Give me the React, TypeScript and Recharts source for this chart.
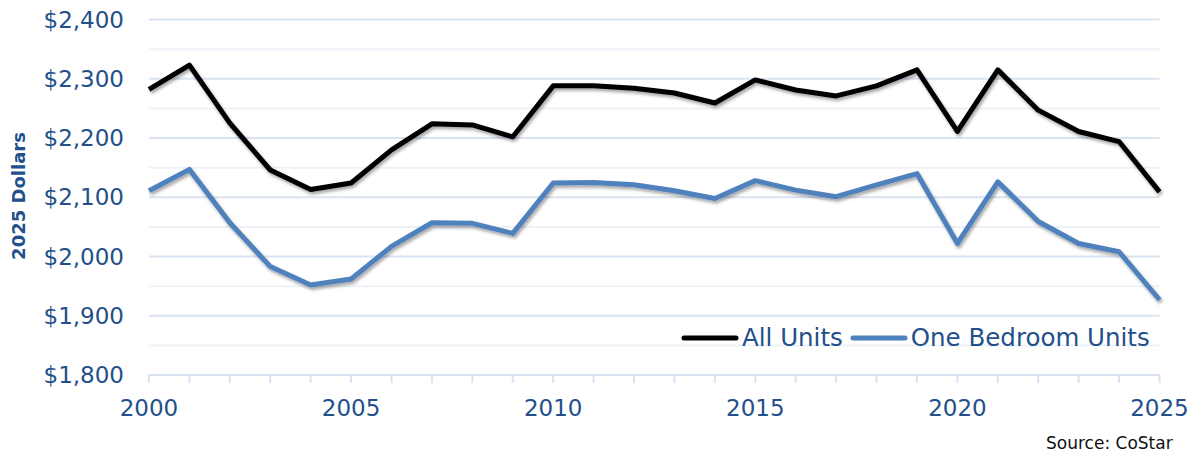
import React from 'react';
import { LineChart, Line, XAxis, YAxis, ReferenceLine, Legend } from 'recharts';

const years = [2000, 2001, 2002, 2003, 2004, 2005, 2006, 2007, 2008, 2009, 2010, 2011, 2012,
  2013, 2014, 2015, 2016, 2017, 2018, 2019, 2020, 2021, 2022, 2023, 2024, 2025];
const allUnits = [2282, 2323, 2225, 2146, 2113, 2124, 2180, 2224, 2222, 2202, 2288, 2288, 2284,
  2276, 2259, 2298, 2281, 2271, 2288, 2315, 2211, 2315, 2247, 2211, 2194, 2109];
const oneBedroom = [2111, 2147, 2057, 1983, 1952, 1962, 2017, 2057, 2056, 2039, 2124, 2125, 2121,
  2111, 2098, 2128, 2112, 2101, 2121, 2140, 2022, 2126, 2059, 2022, 2008, 1927];
const yTicks = [1800, 1900, 2000, 2100, 2200, 2300, 2400];
const minorGrid = [1850, 1950, 2050, 2150, 2250, 2350];
const labelYears = [2000, 2005, 2010, 2015, 2020, 2025];

const data = years.map((year, i) => ({ year, all: allUnits[i], one: oneBedroom[i] }));

const TEXT = '#23508a';
const FONT = '"DejaVu Sans", sans-serif';

const XTick = (props: any) => {
  const { x, y, payload } = props;
  if (!labelYears.includes(payload.value)) return <g />;
  return (
    <text x={x} y={y} dy="0.71em" textAnchor="middle" fill={TEXT} fontSize={23} fontFamily={FONT}>
      {payload.value}
    </text>
  );
};

const YLabel = () => (
  <text x={19} y={196} transform="rotate(-90 19 196)" textAnchor="middle" dy="0.36em"
    fill={TEXT} fontSize={18} fontWeight="bold" fontFamily={FONT}>
    2025 Dollars
  </text>
);

const LegendContent = (props: any) => {
  const { payload } = props;
  return (
    <div style={{ display: 'flex', alignItems: 'center', fontFamily: FONT, fontSize: 24.5, color: TEXT }}>
      {(payload || []).map((p: any, i: number) => (
        <div key={p.value} style={{ display: 'flex', alignItems: 'center', marginLeft: i ? 7 : 0 }}>
          <svg width={58} height={10} style={{ marginRight: 3 }}>
            <line x1={3} y1={5} x2={55} y2={5} stroke={p.color} strokeWidth={5} strokeLinecap="round" />
          </svg>
          <span style={{ lineHeight: '28px' }}>{p.value}</span>
        </div>
      ))}
    </div>
  );
};

export default function App() {
  return (
    <div style={{ position: 'absolute', left: 0, top: 0, width: 1198, height: 458, background: '#fff' }}>
      <LineChart width={1198} height={458} data={data}
        margin={{ top: 19.5, right: 38.5, left: 0, bottom: 33 }}>
        <defs>
          <filter id="lineShadow" x="-5%" y="-20%" width="110%" height="140%">
            <feDropShadow dx="1.5" dy="2.5" stdDeviation="1.8" floodColor="#000" floodOpacity="0.35" />
          </filter>
        </defs>
        {minorGrid.map(v => (
          <ReferenceLine key={'m' + v} y={v} stroke="#eef2f8" strokeWidth={2} />
        ))}
        {yTicks.slice(1).map(v => (
          <ReferenceLine key={'M' + v} y={v} stroke="#d9e3f1" strokeWidth={2} />
        ))}
        <XAxis dataKey="year" type="number" domain={[2000, 2025]} ticks={years} interval={0}
          height={50} axisLine={{ stroke: '#d9e3f1', strokeWidth: 2 }}
          tickLine={{ stroke: '#d9e3f1', strokeWidth: 2 }} tickSize={8} tickMargin={17}
          tick={<XTick />} />
        <YAxis domain={[1800, 2400]} ticks={yTicks} width={149} axisLine={false} tickLine={false}
          tickSize={6} tickMargin={19}
          tick={{ fill: TEXT, fontSize: 23, fontFamily: FONT }}
          tickFormatter={(v: number) => '$' + v.toLocaleString('en-US')}
          label={<YLabel />} />
        <Legend layout="horizontal" verticalAlign="middle" align="center"
          wrapperStyle={{ position: 'absolute', left: 681, top: 324, width: 'auto' }}
          content={<LegendContent />} />
        <Line dataKey="all" name="All Units" stroke="#000000" strokeWidth={5} dot={false}
          strokeLinejoin="round" filter="url(#lineShadow)" isAnimationActive={false} />
        <Line dataKey="one" name="One Bedroom Units" stroke="#4f81bd" strokeWidth={5} dot={false}
          strokeLinejoin="round" filter="url(#lineShadow)" isAnimationActive={false} />
      </LineChart>
      <div style={{ position: 'absolute', left: 1046, top: 433, fontFamily: FONT, fontSize: 17, color: '#111' }}>
        Source: CoStar
      </div>
    </div>
  );
}
